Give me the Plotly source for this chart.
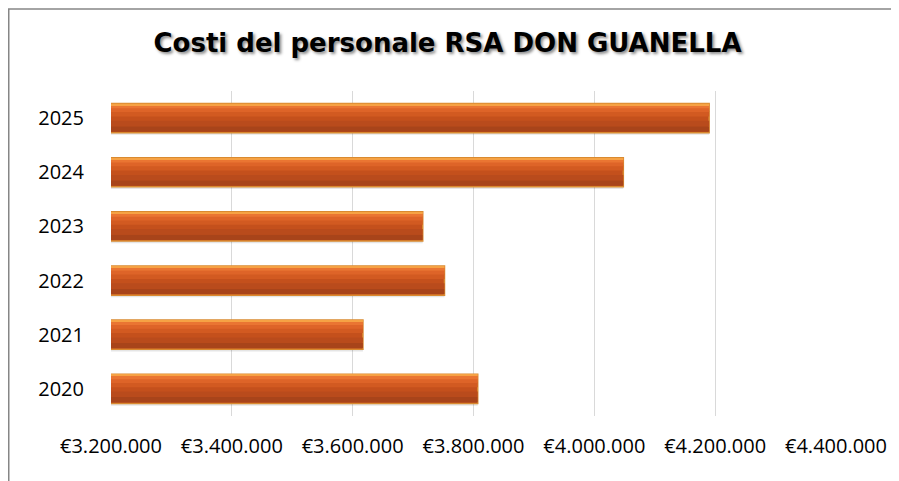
import plotly.graph_objects as go

# ---- data ----
years = ["2020", "2021", "2022", "2023", "2024", "2025"]
costs = [3807000, 3617000, 3752000, 3716000, 4048000, 4190000]
x_tick_vals = [3200000, 3400000, 3600000, 3800000, 4000000, 4200000, 4400000]
x_tick_text = ["€3.200.000", "€3.400.000", "€3.600.000", "€3.800.000",
               "€4.000.000", "€4.200.000", "€4.400.000"]
title_text = "Costi del personale RSA DON GUANELLA"

# ---- layout geometry (pixels, figure coords; page has an 8px body margin) ----
W, H = 891, 473
ML, MR, MT, MB = 103, 63, 83, 65
pw = W - ML - MR
ph = H - MT - MB

def px_to_paper_x(px):
    return (px - ML) / pw

def px_to_paper_y(py):
    return (H - MB - py) / ph

fig = go.Figure()

BW = 0.54
half = BW / 2

# shadow
fig.add_trace(go.Bar(y=years, x=costs, orientation="h", width=BW, offset=-half - 0.04,
                     marker=dict(color="rgba(0,0,0,0.10)", line=dict(width=0)),
                     hoverinfo="skip", showlegend=False))
# main bar
fig.add_trace(go.Bar(y=years, x=costs, orientation="h", width=BW, offset=-half,
                     marker=dict(color="#C4501C", line=dict(color="#D98A30", width=1.5)),
                     name="Costi", showlegend=False))
# gradient bands
bands = [
    (-half + 0.02, 0.10, "#A8441A"),
    (-half + 0.12, 0.10, "#B94B1C"),
    (0.03, 0.10, "#D25A21"),
    (0.11, 0.08, "#DE6428"),
    (0.18, 0.065, "#EA7532"),
    (half - 0.03, 0.025, "#F6A244"),
]
for off, wd, col in bands:
    fig.add_trace(go.Bar(y=years, x=costs, orientation="h", width=wd, offset=off,
                         marker=dict(color=col, line=dict(width=0)),
                         hoverinfo="skip", showlegend=False))

fig.update_layout(
    width=W, height=H,
    margin=dict(l=ML, r=MR, t=MT, b=MB, autoexpand=False),
    barmode="overlay",
    paper_bgcolor="white",
    plot_bgcolor="white",
    title=dict(
        text=title_text,
        x=px_to_paper_x(439.5), xref="paper", xanchor="center",
        y=1 - 35 / H, yref="container", yanchor="middle",
        font=dict(family="DejaVu Sans", size=26, color="black", weight="bold",
                  shadow="2px 2px 3px rgba(0,0,0,0.45)"),
    ),
    xaxis=dict(
        range=[3200000, 4400000],
        tickvals=x_tick_vals, ticktext=x_tick_text,
        showgrid=True, gridcolor="#D9D9D9", gridwidth=1,
        zeroline=False, showline=False, ticks="",
        tickfont=dict(family="Open Sans", size=20, color="black"),
        ticklabelstandoff=16,
    ),
    yaxis=dict(
        type="category",
        categoryorder="array", categoryarray=years,
        range=[-0.5, 5.5],
        showgrid=False, zeroline=False, showline=False, ticks="",
        tickfont=dict(family="Open Sans", size=20, color="black"),
        ticklabelstandoff=26,
    ),
    shapes=[
        dict(type="rect", xref="paper", yref="paper",
             x0=px_to_paper_x(0.75), x1=px_to_paper_x(W + 20),
             y0=px_to_paper_y(H + 20), y1=px_to_paper_y(1),
             line=dict(color="#868686", width=1.5), fillcolor="rgba(0,0,0,0)",
             layer="below"),
    ],
)

fig.write_html("out.html")
